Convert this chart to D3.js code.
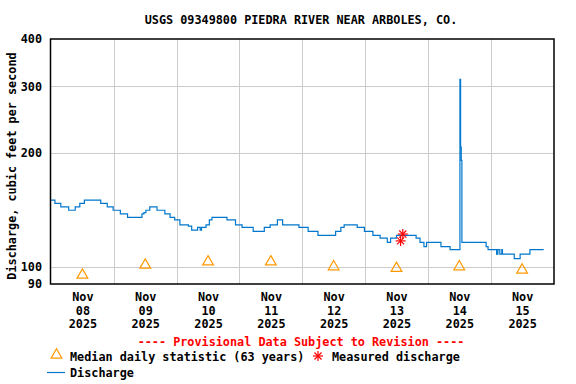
<!DOCTYPE html>
<html>
<head>
<meta charset="utf-8">
<script src="https://cdn.jsdelivr.net/npm/d3@7"></script>
<style>
  body { margin: 0; background: #fff; }
  text { font-family: "DejaVu Sans Mono", monospace; font-weight: bold; font-size: 11.8px; }
</style>
</head>
<body>
<svg id="canvas"></svg>
<script>
// discharge, 15-minute gage readings (only the change points, drawn as steps)
const dischargeTimes = [
  "2025-11-08T00:00", "2025-11-08T01:30", "2025-11-08T03:45", "2025-11-08T06:45", "2025-11-08T09:15",
  "2025-11-08T11:00", "2025-11-08T12:45", "2025-11-08T19:00", "2025-11-08T21:30", "2025-11-08T23:45",
  "2025-11-09T02:30", "2025-11-09T05:15", "2025-11-09T10:45", "2025-11-09T11:30", "2025-11-09T12:15",
  "2025-11-09T13:45", "2025-11-09T16:30", "2025-11-09T19:30", "2025-11-09T21:30", "2025-11-09T23:15",
  "2025-11-10T01:15", "2025-11-10T04:30", "2025-11-10T05:45", "2025-11-10T08:00", "2025-11-10T09:00",
  "2025-11-10T09:30", "2025-11-10T11:15", "2025-11-10T12:30", "2025-11-10T13:30", "2025-11-10T19:15",
  "2025-11-10T22:30", "2025-11-11T01:00", "2025-11-11T05:15", "2025-11-11T09:30", "2025-11-11T11:45",
  "2025-11-11T14:30", "2025-11-11T16:30", "2025-11-11T22:45", "2025-11-12T02:15", "2025-11-12T06:00",
  "2025-11-12T12:45", "2025-11-12T14:45", "2025-11-12T16:00", "2025-11-12T21:00", "2025-11-12T23:45",
  "2025-11-13T03:00", "2025-11-13T05:45", "2025-11-13T08:30", "2025-11-13T09:45", "2025-11-13T12:00",
  "2025-11-13T19:30", "2025-11-13T21:00", "2025-11-13T22:30", "2025-11-13T23:30", "2025-11-14T05:00",
  "2025-11-14T08:30", "2025-11-14T12:15", "2025-11-14T12:30", "2025-11-14T12:45", "2025-11-14T13:00",
  "2025-11-14T22:15", "2025-11-14T23:00", "2025-11-15T02:15", "2025-11-15T02:45", "2025-11-15T03:30",
  "2025-11-15T04:15", "2025-11-15T04:30", "2025-11-15T09:00", "2025-11-15T11:15", "2025-11-15T15:00",
  "2025-11-15T20:15"
];
const dischargeValues = [
  150, 147, 144, 141, 144,
  147, 150, 147, 144, 141,
  138, 135, 138, 139, 141,
  144, 141, 138, 135, 133,
  129, 128, 125, 127, 125,
  127, 129, 133, 135, 133,
  129, 127, 124, 127, 129,
  133, 129, 127, 124, 121,
  124, 127, 129, 127, 124,
  121, 119, 116, 119, 121,
  119, 116, 113, 116, 113,
  111, 313, 207, 191, 116,
  113, 111, 108, 111, 108,
  111, 108, 105, 108, 111,
  111
];

// median daily statistic (63 years), plotted at noon
const medianDays = ["2025-11-08", "2025-11-09", "2025-11-10", "2025-11-11",
                    "2025-11-12", "2025-11-13", "2025-11-14", "2025-11-15"];
const medianValues = [95, 101, 103, 103, 100, 99, 100, 98];

// field measurements
const measuredTimes = ["2025-11-13T13:35", "2025-11-13T14:25"];
const measuredValues = [117, 122];

const yTicks = [90, 100, 200, 300, 400];
const yGrid = [100, 200, 300];

const width = 576;
const height = 384;
const margin = { top: 39, right: 22, bottom: 100, left: 51 };

const svg = d3.select("#canvas")
  .attr("width", width)
  .attr("height", height);

const parse = d3.utcParse("%Y-%m-%dT%H:%M");
const parseDay = d3.utcParse("%Y-%m-%d");

const x = d3.scaleUtc()
  .domain([parseDay("2025-11-08"), parseDay("2025-11-16")])
  .range([margin.left, width - margin.right - 0.5]);

const y = d3.scaleLog()
  .domain([90, 400])
  .range([height - margin.bottom, margin.top]);

const blue = "#0077cc";
const orange = "#ff9900";
const red = "#ff0000";

// grid
const days = d3.utcDay.range(parseDay("2025-11-09"), parseDay("2025-11-16"));
svg.append("g")
  .selectAll("line")
  .data(days)
  .join("line")
  .attr("x1", d => Math.round(x(d)) + 0.5)
  .attr("x2", d => Math.round(x(d)) + 0.5)
  .attr("y1", y(400))
  .attr("y2", y(90))
  .attr("stroke", "#cccccc");

svg.append("g")
  .selectAll("line")
  .data(yGrid)
  .join("line")
  .attr("x1", x.range()[0])
  .attr("x2", x.range()[1])
  .attr("y1", d => Math.round(y(d)) + 0.5)
  .attr("y2", d => Math.round(y(d)) + 0.5)
  .attr("stroke", "#cccccc");

// discharge line
const pts = dischargeTimes.map((t, i) => [parse(t), dischargeValues[i]]);
svg.append("path")
  .datum(pts)
  .attr("fill", "none")
  .attr("stroke", blue)
  .attr("stroke-width", 1.2)
  .attr("d", d3.line()
    .x(d => x(d[0]))
    .y(d => y(d[1]))
    .curve(d3.curveStepAfter));

// median triangles
const tri = d3.symbol().type(d3.symbolTriangle).size(50);
svg.append("g")
  .selectAll("path")
  .data(medianDays)
  .join("path")
  .attr("d", tri)
  .attr("transform", (d, i) => `translate(${x(d3.utcHour.offset(parseDay(d), 12))},${y(medianValues[i])})`)
  .attr("fill", "none")
  .attr("stroke", orange)
  .attr("stroke-width", 1.2);

// measured discharge asterisks
function asterisk(g, cx, cy, r) {
  for (let k = 0; k < 4; k++) {
    const a = k * Math.PI / 4;
    g.append("line")
      .attr("x1", cx - r * Math.cos(a)).attr("y1", cy - r * Math.sin(a))
      .attr("x2", cx + r * Math.cos(a)).attr("y2", cy + r * Math.sin(a))
      .attr("stroke", red)
      .attr("stroke-width", 1.2);
  }
}
const meas = svg.append("g");
measuredTimes.forEach((t, i) => asterisk(meas, x(parse(t)), y(measuredValues[i]), 5));

// frame
svg.append("rect")
  .attr("x", x.range()[0] - 0.5)
  .attr("y", y(400))
  .attr("width", x.range()[1] - x.range()[0] + 1)
  .attr("height", y(90) - y(400))
  .attr("fill", "none")
  .attr("stroke", "#000")
  .attr("stroke-width", 1.5);

// y axis labels
const yAxis = svg.append("g")
  .attr("transform", `translate(${margin.left},0)`)
  .call(d3.axisLeft(y).tickValues(yTicks).tickSize(0).tickPadding(9).tickFormat(d3.format("d")));
yAxis.select(".domain").remove();
yAxis.selectAll("text")
  .attr("fill", "#000")
  .style("font-family", "DejaVu Sans Mono")
  .style("font-size", "11.8px");

// x axis labels at noon of each day
const noon = medianDays.map(d => d3.utcHour.offset(parseDay(d), 12));
const xAxis = svg.append("g")
  .attr("transform", `translate(0,${height - margin.bottom})`)
  .call(d3.axisBottom(x).tickValues(noon).tickSize(0).tickFormat(""));
xAxis.select(".domain").remove();
xAxis.selectAll(".tick").each(function(d) {
  const t = d3.select(this).append("text")
    .attr("fill", "#000")
    .attr("text-anchor", "middle");
  const lines = [d3.utcFormat("%b")(d), d3.utcFormat("%d")(d), d3.utcFormat("%Y")(d)];
  lines.forEach((s, i) => t.append("tspan").attr("x", 0).attr("y", 17 + i * 13.5).text(s));
});

// titles
svg.append("text")
  .attr("x", 301)
  .attr("y", 24)
  .attr("text-anchor", "middle")
  .text("USGS 09349800 PIEDRA RIVER NEAR ARBOLES, CO.");

svg.append("text")
  .attr("transform", "translate(16,166) rotate(-90)")
  .attr("text-anchor", "middle")
  .text("Discharge, cubic feet per second");

// legend
svg.append("text")
  .attr("x", 301)
  .attr("y", 346)
  .attr("text-anchor", "middle")
  .attr("fill", red)
  .text("---- Provisional Data Subject to Revision ----");

const legend = svg.append("g");
legend.append("path")
  .attr("d", tri)
  .attr("transform", "translate(56.5,355)")
  .attr("fill", "none")
  .attr("stroke", orange)
  .attr("stroke-width", 1.2);
legend.append("text").attr("x", 70).attr("y", 360.5).text("Median daily statistic (63 years)");
asterisk(legend, 318, 356, 5);
legend.append("text").attr("x", 332).attr("y", 360.5).text("Measured discharge");
legend.append("line")
  .attr("x1", 47).attr("x2", 65)
  .attr("y1", 372.5).attr("y2", 372.5)
  .attr("stroke", blue)
  .attr("stroke-width", 1.2);
legend.append("text").attr("x", 70).attr("y", 376.5).text("Discharge");
</script>
</body>
</html>
